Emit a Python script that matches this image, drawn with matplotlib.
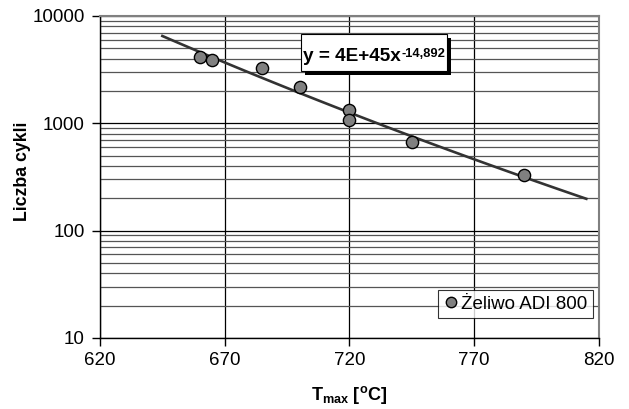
import numpy as np
import matplotlib
matplotlib.use('Agg')
from matplotlib import pyplot as plt
from matplotlib.ticker import LogLocator, NullFormatter, FixedLocator

plt.rcParams['font.family'] = ['Liberation Sans', 'DejaVu Sans']
plt.rcParams['mathtext.fontset'] = 'custom'
plt.rcParams['mathtext.rm'] = 'Liberation Sans:bold'
plt.rcParams['mathtext.bf'] = 'Liberation Sans:bold'

# data
t_max = [660, 665, 685, 700, 720, 720, 745, 790]
cycles = [4180, 3890, 3260, 2160, 1330, 1070, 675, 330]
series_name = 'Żeliwo ADI 800'
x_ticks = [620, 670, 720, 770, 820]
y_ticks = [10, 100, 1000, 10000]
trend_range = [645, 815]
trend_base = 'y = 4E+45x'
trend_exp = '-14,892'

fig = plt.figure(figsize=(6.29, 4.09), dpi=100)
ax = fig.add_axes([0.159, 0.174, 0.793, 0.787])

# power trend line (fitted in log-log)
b, a = np.polyfit(np.log10(t_max), np.log10(cycles), 1)
xt = np.linspace(trend_range[0], trend_range[1], 50)
ax.plot(xt, 10 ** (a + b * np.log10(xt)), color='#333333', lw=1.9, zorder=3)

ax.plot(t_max, cycles, 'o', ms=8.8, mfc='#808080', mec='black', mew=1.0,
        label=series_name, zorder=4)

ax.set_yscale('log')
ax.set_xlim(620, 820)
ax.set_ylim(10, 10000)
ax.xaxis.set_major_locator(FixedLocator(x_ticks))
ax.yaxis.set_major_locator(FixedLocator(y_ticks))
ax.set_yticklabels([str(v) for v in y_ticks])
ax.yaxis.set_minor_locator(LogLocator(base=10, subs=np.arange(2, 10)))
ax.yaxis.set_minor_formatter(NullFormatter())
ax.tick_params(axis='y', which='minor', length=0)
ax.tick_params(which='major', direction='out', length=6, width=1,
               labelsize=13.5, colors='black', pad=5)
ax.tick_params(axis='x', pad=4)

ax.grid(True, which='major', axis='both', color='black', lw=0.9)
ax.grid(True, which='minor', axis='y', color='#555555', lw=0.9)
ax.set_axisbelow(True)

for side in ['top', 'right']:
    ax.spines[side].set_color('#808080')
    ax.spines[side].set_linewidth(1.5)
for side in ['left', 'bottom']:
    ax.spines[side].set_color('black')
    ax.spines[side].set_linewidth(1.0)

ax.set_ylabel('Liczba cykli', fontsize=12.8, fontweight='bold')
ax.yaxis.set_label_coords(-0.138, 0.517)
ax.set_xlabel(r'T$_{\mathbf{max}}$ [$^{\mathbf{o}}$C]', fontsize=13,
              fontweight='bold', labelpad=11)

# trend label box with shadow
ax.add_patch(plt.Rectangle((0.410, 0.818), 0.293, 0.113,
                           transform=ax.transAxes, fc='black', ec='none',
                           zorder=5))
ax.add_patch(plt.Rectangle((0.402, 0.830), 0.293, 0.113,
                           transform=ax.transAxes, fc='white', ec='black',
                           lw=0.8, zorder=6))
main = ax.text(0.407, 0.861, trend_base, transform=ax.transAxes,
               fontsize=13.7, fontweight='bold', va='baseline', ha='left',
               zorder=7)
ax.annotate(trend_exp, xy=(1, 1), xycoords=main, xytext=(0.2, -0.3),
            textcoords='offset points', fontsize=9.3, fontweight='bold',
            va='top', ha='left', zorder=7)

leg = ax.legend(loc='lower right', bbox_to_anchor=(0.988, 0.061),
                fontsize=13.5, frameon=True, fancybox=False, handletextpad=0.15,
                borderpad=0.3, handlelength=0.8, markerscale=0.85,
                borderaxespad=0)
leg.get_frame().set_edgecolor('black')
leg.get_frame().set_linewidth(0.8)

fig.savefig('out.png', dpi=100, facecolor='white')
